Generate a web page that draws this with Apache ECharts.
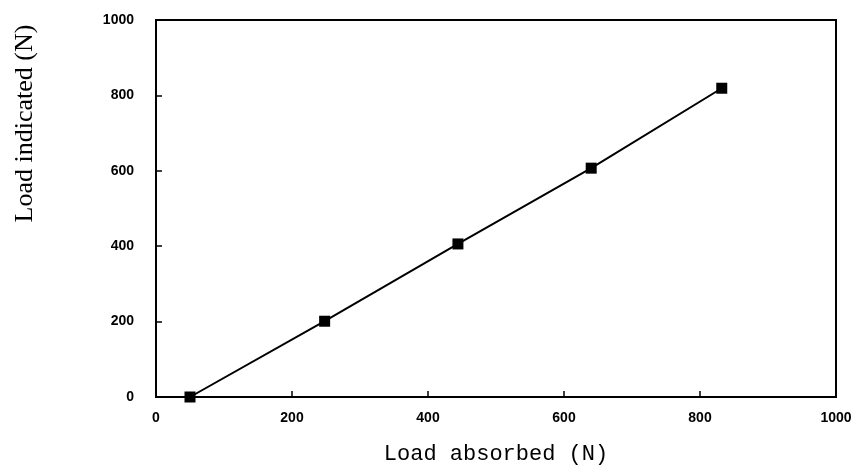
<!DOCTYPE html>
<html>
<head>
<meta charset="utf-8">
<script src="https://cdn.jsdelivr.net/npm/echarts@6/dist/echarts.min.js"></script>
<style>
  html, body { margin: 0; padding: 0; background: #fff; }
  #chart { width: 858px; height: 465px; }
</style>
</head>
<body>
<div id="chart"></div>
<script>
// load absorbed (x) vs load indicated (y), in N
var absorbed = [50, 248, 444, 640, 832];
var indicated = [0, 201, 406, 607, 819];
var xTicks = [0, 200, 400, 600, 800, 1000];
var yTicks = [0, 200, 400, 600, 800, 1000];

var points = absorbed.map(function (x, i) { return [x, indicated[i]]; });

var tickFont = {
    color: '#000',
    fontFamily: 'Liberation Sans, Arial, sans-serif',
    fontWeight: 'bold',
    fontSize: 14,
    formatter: function (v) { return String(v); }
};

var myChart = echarts.init(document.getElementById('chart'));
myChart.setOption({
    animation: false,
    grid: {
        left: 156,
        right: 22,
        top: 20,
        bottom: 68,
        containLabel: false,
        outerBoundsMode: 'none',
        show: true,
        borderColor: '#000',
        borderWidth: 2,
        backgroundColor: 'transparent'
    },
    xAxis: {
        type: 'value',
        min: xTicks[0],
        max: xTicks[xTicks.length - 1],
        interval: 200,
        name: 'Load absorbed (N)',
        nameLocation: 'middle',
        nameGap: 46,
        nameTextStyle: {
            color: '#000',
            fontFamily: 'Liberation Mono, Courier New, monospace',
            fontSize: 22
        },
        axisLine: { show: true, lineStyle: { color: '#000', width: 2 } },
        axisTick: { show: true, inside: true, length: 6, lineStyle: { color: '#000', width: 1.5 } },
        axisLabel: Object.assign({ margin: 14 }, tickFont),
        splitLine: { show: false }
    },
    yAxis: {
        type: 'value',
        min: yTicks[0],
        max: yTicks[yTicks.length - 1],
        interval: 200,
        name: 'Load indicated (N)',
        nameLocation: 'middle',
        nameGap: 118,
        nameTextStyle: {
            color: '#000',
            fontFamily: 'Liberation Serif, Times New Roman, serif',
            fontSize: 26,
            padding: [0, 0, 0, 170]
        },
        axisLine: { show: true, lineStyle: { color: '#000', width: 2 } },
        axisTick: { show: true, inside: true, length: 6, lineStyle: { color: '#000', width: 1.5 } },
        axisLabel: Object.assign({ margin: 22 }, tickFont),
        splitLine: { show: false }
    },
    series: [
        {
            type: 'line',
            data: points,
            symbol: 'rect',
            symbolSize: 11,
            itemStyle: { color: '#000' },
            lineStyle: { color: '#000', width: 2 }
        }
    ]
});
</script>
</body>
</html>
